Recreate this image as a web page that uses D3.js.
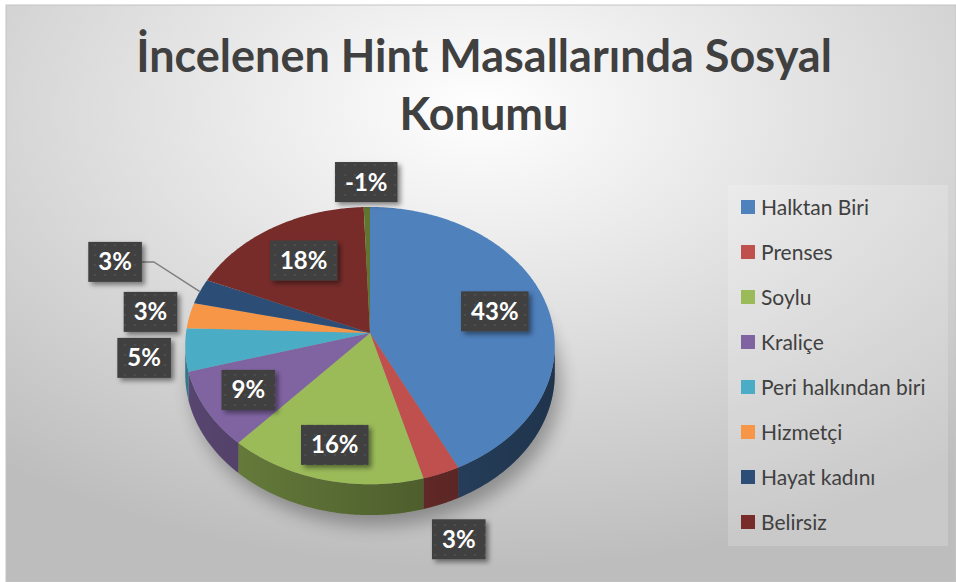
<!DOCTYPE html>
<html lang="tr">
<head>
<meta charset="utf-8">
<title>İncelenen Hint Masallarında Sosyal Konumu</title>
<script src="https://d3js.org/d3.v7.min.js"></script>
<style>
  body { margin: 0; background: #fff; }
  svg { display: block; font-family: Lato, "Open Sans", sans-serif; }
</style>
</head>
<body>
<script>
// data (per cent)
var categories = ["Halktan Biri", "Prenses", "Soylu", "Kraliçe", "Peri halkından biri", "Hizmetçi", "Hayat kadını", "Belirsiz"];
var values = [43, 3, 16, 9, 5, 3, 3, 18];
// ninth point, not in the legend: the thin olive sliver labelled -1%
var extraValue = -0.6;
var colors = ["#4F81BD", "#C0504D", "#9BBB59", "#8064A2", "#4BACC6", "#F79646", "#2C4D75", "#772C2A", "#5F7530"];
var titleLines = ["İncelenen Hint Masallarında Sosyal", "Konumu"];

var w = 956, h = 582;
var svg = d3.select("body").append("svg").attr("width", w).attr("height", h);
var defs = svg.append("defs");

// chart background
var bg = defs.append("radialGradient").attr("id", "bg")
    .attr("cx", "50%").attr("cy", "18%").attr("r", "80%");
bg.append("stop").attr("offset", "0%").attr("stop-color", "#ffffff");
bg.append("stop").attr("offset", "100%").attr("stop-color", "#bdbdbd");
svg.append("rect").attr("x", 6).attr("y", 5).attr("width", w - 6).attr("height", h - 5)
    .attr("fill", "url(#bg)").attr("stroke", "#c4c4c4");

// title
svg.append("g").selectAll("text").data(titleLines).join("text")
    .attr("x", 484).attr("y", function (d, i) { return 72 + i * 58; })
    .attr("text-anchor", "middle").attr("font-size", 45).attr("font-weight", "bold")
    .attr("fill", "#404040").text(function (d) { return d; });

// pie geometry (tilted, with a little perspective)
var cx = 370, cy = 333, R = 184, B = 137.5, persp = 0.091, depth = 28;
function proj(t, r, hh) {
    var X = r * Math.sin(t), Z = -r * Math.cos(t);
    var f = 1 / (1 - persp * Z);
    return [cx + R * X * f, cy + (B * Z + (hh || 0)) * f];
}
function rim(t0, t1, hh) {
    var n = Math.max(2, Math.ceil((t1 - t0) / 0.01));
    return d3.range(n + 1).map(function (i) { return proj(t0 + (t1 - t0) * i / n, 1, hh); });
}
var line = d3.line();

var rows = categories.map(function (c, i) { return { name: c, v: values[i], color: colors[i] }; });
rows.push({ name: "", v: extraValue, color: colors[8] });

var arcs = d3.pie().sort(null).value(function (d) { return Math.abs(d.v); })(rows);

// soft shadow under the pie
var blur = defs.append("filter").attr("id", "blur").attr("x", "-30%").attr("y", "-30%")
    .attr("width", "160%").attr("height", "160%");
blur.append("feGaussianBlur").attr("stdDeviation", 9);
svg.append("path")
    .attr("d", line(rim(0, 2 * Math.PI, depth + 6)) + "Z")
    .attr("transform", "translate(6,4)")
    .attr("fill", "#000").attr("opacity", 0.3).attr("filter", "url(#blur)");

// visible part of the side wall
var tA = Math.acos(-persp), tB = 2 * Math.PI - tA;
var sides = svg.append("g");
arcs.forEach(function (a) {
    var t0 = Math.max(a.startAngle, tA), t1 = Math.min(a.endAngle, tB);
    if (t0 >= t1) return;
    var pts = rim(t0, t1, 0).concat(rim(t0, t1, depth).reverse());
    sides.append("path").attr("d", line(pts) + "Z")
        .attr("fill", d3.color(a.data.color).darker(0.9));
});
var shade = defs.append("linearGradient").attr("id", "shade")
    .attr("gradientUnits", "userSpaceOnUse")
    .attr("x1", cx - R).attr("x2", cx + R).attr("y1", 0).attr("y2", 0);
shade.append("stop").attr("offset", "0%").attr("stop-color", "#000").attr("stop-opacity", 0.05);
shade.append("stop").attr("offset", "100%").attr("stop-color", "#000").attr("stop-opacity", 0.45);
sides.append("path")
    .attr("d", line(rim(tA, tB, 0).concat(rim(tA, tB, depth).reverse())) + "Z")
    .attr("fill", "url(#shade)");

// top faces
svg.append("g").selectAll("path").data(arcs).join("path")
    .attr("d", function (a) {
        return line([proj(0, 0)].concat(rim(a.startAngle, a.endAngle, 0))) + "Z";
    })
    .attr("fill", function (a) { return a.data.color; });

// data labels
var pat = defs.append("pattern").attr("id", "dots").attr("patternUnits", "userSpaceOnUse")
    .attr("width", 10).attr("height", 10);
pat.append("rect").attr("width", 10).attr("height", 10).attr("fill", "#3f3f3f");
pat.append("circle").attr("cx", 5).attr("cy", 5).attr("r", 1.3).attr("fill", "#4e4e4e");
var ds = defs.append("filter").attr("id", "ds").attr("x", "-30%").attr("y", "-30%")
    .attr("width", "170%").attr("height", "170%");
ds.append("feDropShadow").attr("dx", 3).attr("dy", 3).attr("stdDeviation", 2.5)
    .attr("flood-color", "#000").attr("flood-opacity", 0.45);

var pct = d3.formatLocale({ decimal: ".", thousands: ",", grouping: [3], currency: ["", ""], minus: "-" }).format(".0%");
var fmt = function (v) { return pct(v / 100); };
var labels = arcs.map(function (a) {
    var mid = (a.startAngle + a.endAngle) / 2;
    var inside = Math.abs(a.data.v) >= 8;
    var p;
    if (inside) {
        var rr = 0.66 + 0.12 * (1 - Math.cos(mid)) / 2;
        p = proj(mid, rr, 0);
    } else {
        var Z = -1.22 * Math.cos(mid);
        p = proj(mid, 1.22, depth * Math.max(0, Math.min(1, Z)));
    }
    return { a: a, mid: mid, inside: inside, x: p[0], y: p[1], text: fmt(a.data.v) };
});

var lg = svg.append("g");
var tmp = lg.append("text").attr("font-size", 24).attr("font-weight", "bold");
labels.forEach(function (l) {
    tmp.text(l.text);
    l.w = tmp.node().getComputedTextLength() + 20;
    l.h = 40;
});
tmp.remove();

// push overlapping outside labels on the left side upward, with a leader line
var left = labels.filter(function (l) { return !l.inside && l.x < cx; })
    .sort(function (p, q) { return q.y - p.y; });
for (var i = 1; i < left.length; i++) {
    var prev = left[i - 1], cur = left[i];
    if (prev.y - cur.y < cur.h) {
        var rp = proj(cur.mid, 1, 0);
        cur.y = prev.y - cur.h - 10;
        cur.x = rp[0] - 58 - cur.w / 2;
        cur.leader = [[cur.x + cur.w / 2, cur.y], [cur.x + cur.w / 2 + 12, cur.y], rp];
    }
}

labels.forEach(function (l) {
    if (l.leader) {
        lg.append("path").attr("d", d3.line()(l.leader))
            .attr("fill", "none").attr("stroke", "#7f7f7f").attr("stroke-width", 1.5);
    }
    lg.append("rect")
        .attr("x", l.x - l.w / 2).attr("y", l.y - l.h / 2)
        .attr("width", l.w).attr("height", l.h)
        .attr("fill", "url(#dots)").attr("filter", "url(#ds)");
    lg.append("text")
        .attr("x", l.x).attr("y", l.y + 8.5)
        .attr("text-anchor", "middle").attr("font-size", 24).attr("font-weight", "bold")
        .attr("fill", "#fff").text(l.text);
});

// legend
var legend = svg.append("g").attr("transform", "translate(728,185)");
legend.append("rect").attr("width", 220).attr("height", 361)
    .attr("fill", "#ffffff").attr("fill-opacity", 0.18);
var item = legend.selectAll("g").data(categories).join("g")
    .attr("transform", function (d, i) { return "translate(13," + (22 + i * 45) + ")"; });
item.append("rect").attr("y", -7).attr("width", 14).attr("height", 14)
    .attr("fill", function (d, i) { return colors[i]; });
item.append("text").attr("x", 20).attr("y", 7.5)
    .attr("font-size", 21).attr("fill", "#404040").text(function (d) { return d; });
</script>
</body>
</html>
